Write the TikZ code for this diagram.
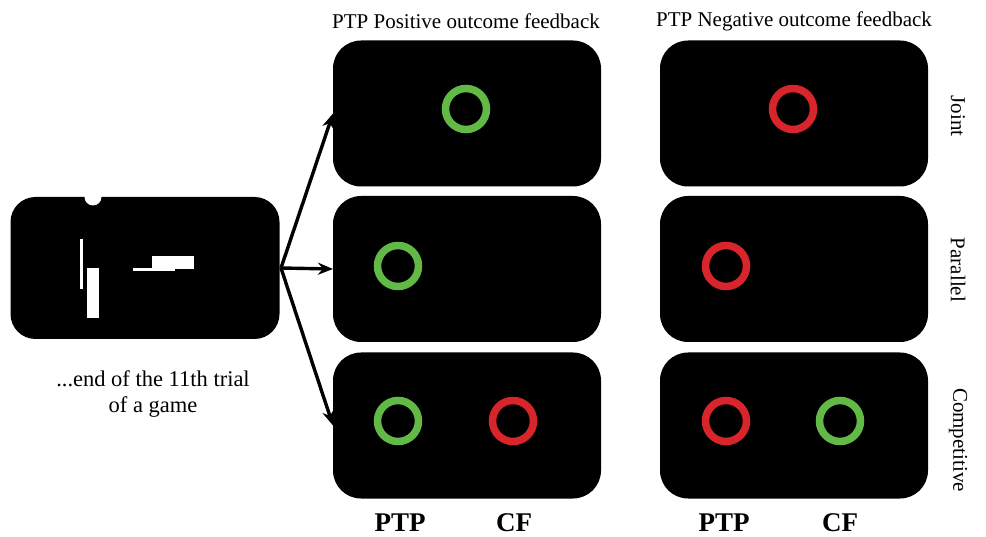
\documentclass[tikz,border=0pt]{standalone}
\usepackage{fontspec}
\setmainfont{Liberation Serif}
\usetikzlibrary{arrows.meta}
\definecolor{okgreen}{HTML}{62B946}
\definecolor{badred}{HTML}{D7252B}
\begin{document}
\begin{tikzpicture}[x=1pt,y=-1pt,
  screen/.style={fill=black, rounded corners=28pt, minimum width=268pt, minimum height=146pt, inner sep=0pt, outer sep=0pt},
  ring/.style={circle, draw=#1, line width=7.5pt, minimum size=41pt, inner sep=0pt},
  lbl/.style={font=\fontsize{21}{26}\selectfont, align=center},
  side/.style={font=\fontsize{21}{26}\selectfont, rotate=-90},
  who/.style={font=\fontsize{27}{30}\selectfont\bfseries},
  link/.style={line width=3.4pt, -{Stealth[length=15pt,width=12pt]}}]
\useasboundingbox (0,0) rectangle (986,537);

% left screen: end of a trial
\node[screen, rounded corners=25pt, minimum width=269pt, minimum height=142pt] (L) at (145,268) {};
\fill[white] (93,197) circle (8.5pt);
\fill[white] (80,239) rectangle (82.5,289);
\fill[white] (87,268) rectangle (99,318);
\fill[white] (152,256) rectangle (194,269);
\fill[white] (133,268.5) rectangle (175,271);
\node[lbl, font=\fontsize{22.5}{26}\selectfont] (cap) at (153,394) {...end of the 11th trial\\of a game};

% feedback screens
\node[screen] (m1) at (467,113.5) {};
\node[screen] (m2) at (467,269) {};
\node[screen] (m3) at (467,425.5) {};
\node[screen] (r1) at (794,113.5) {};
\node[screen] (r2) at (794,269) {};
\node[screen] (r3) at (794,425.5) {};

% outcome rings
\node[ring=okgreen] (g1) at (466,109) {};
\node[ring=okgreen] (g2) at (398,266) {};
\node[ring=okgreen] (g3) at (398,421) {};
\node[ring=badred] (c3) at (513,421) {};
\node[ring=badred] (n1) at (793,109) {};
\node[ring=badred] (n2) at (726,266) {};
\node[ring=badred] (n3) at (726,421) {};
\node[ring=okgreen] (k3) at (840,421) {};

% arrows
\coordinate (src) at (281,268);
\draw[link] (src) -- (m1.west);
\draw[link] (src) -- (m2.west);
\draw[link] (src) -- (m3.west);

% headings
\node[lbl] (hp) at (466,21) {PTP Positive outcome feedback};
\node[lbl] (hn) at (794,21) {PTP Negative outcome feedback};

% condition labels
\node[side] (sj) at (958,116) {Joint};
\node[side] (sp) at (958,270) {Parallel};
\node[side] (sc) at (958,440) {Competitive};

% player labels
\node[who] (p1) at (400,523) {PTP};
\node[who] (f1) at (514,523) {CF};
\node[who] (p2) at (724,523) {PTP};
\node[who] (f2) at (840,523) {CF};
\end{tikzpicture}
\end{document}
